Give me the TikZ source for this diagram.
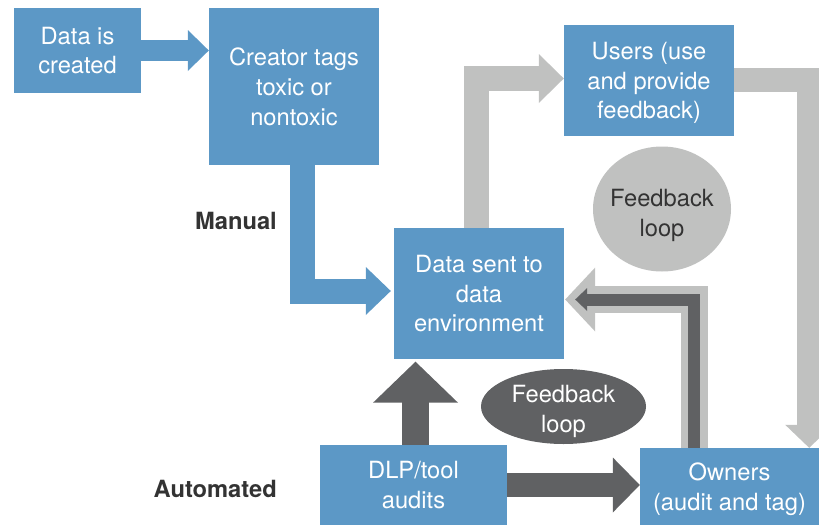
\documentclass[tikz,border=0pt]{standalone}
\usepackage{fontspec}
\setmainfont{TeX Gyre Heros}
\usetikzlibrary{calc,shapes.geometric}
\definecolor{boxblue}{RGB}{92,152,198}
\definecolor{lgray}{RGB}{192,193,192}
\definecolor{dgray}{RGB}{96,97,99}
\definecolor{labeltext}{RGB}{51,51,51}
\begin{document}
\begin{tikzpicture}[x=1pt,y=-1pt,
  box/.style={rectangle, fill=boxblue, text=white, align=center, inner sep=0pt, text depth=0pt,
    font=\fontsize{23.7}{29.7}\selectfont},
  loopshape/.style={ellipse, inner sep=0pt},
  looptext/.style={align=center, inner sep=0pt, text depth=0pt, font=\fontsize{23.7}{29.7}\selectfont},
  sidelabel/.style={anchor=base east, inner sep=0pt, text=labeltext, font=\fontsize{23.7}{28}\selectfont\bfseries},
  shaft/.style={line width=#1, line cap=butt, line join=miter}
]
\useasboundingbox (0,0) rectangle (819,525);

% boxes
\node[box, minimum width=127pt, minimum height=85pt] (created) at (77.5,50.5) {Data is\\created};
\node[box, text depth=-6pt, minimum width=170pt, minimum height=157pt] (creator) at (294,86.5) {Creator tags\\toxic or\\nontoxic};
\node[box, minimum width=170pt, minimum height=111pt] (users) at (649,80.5) {Users (use\\and provide\\feedback)};
\node[box, minimum width=170pt, minimum height=131pt] (sent) at (479,293.5) {Data sent to\\data\\environment};
\node[box, minimum width=187pt, minimum height=80pt] (dlp) at (413.5,485) {DLP/tool\\audits};
\node[box, minimum width=179pt, minimum height=77pt] (owners) at (729.5,486.5) {Owners\\(audit and tag)};

% feedback loops
\node[loopshape, fill=lgray, minimum width=138pt, minimum height=125pt] (fbA) at (662,209) {};
\node[looptext, text=labeltext] (fbAtext) at ($(fbA.center)+(0,4)$) {Feedback\\loop};
\node[loopshape, fill=dgray, minimum width=165pt, minimum height=75pt] (fbB) at (563.5,406.5) {};
\node[looptext, text=white] (fbBtext) at ($(fbB.center)+(0,2.5)$) {Feedback\\loop};

% side labels
\node[sidelabel] (manual) at (277,229) {Manual};
\node[sidelabel] (automated) at (277,497) {Automated};

% arrow 1: created -> creator
\coordinate (t1) at (created.east -| creator.west);
\draw[shaft=21pt, boxblue] (created.east) -- ($(t1)+(-20.5,0)$);
\fill[boxblue] (t1) -- ++(-21,-20.5) -- ++(0,41) -- cycle;

% arrow 2: creator -> sent
\coordinate (s2) at ($(creator.south)+(8.5,0)$);
\coordinate (t2) at ($(sent.west)+(-3,-2.5)$);
\draw[shaft=25pt, boxblue] (s2) -- (s2 |- t2) -- ($(t2)+(-24.5,0)$);
\fill[boxblue] (t2) -- ++(-25,-24) -- ++(0,48) -- cycle;

% arrow 3: sent -> users
\coordinate (s3) at ($(sent.north)+(-2.5,0)$);
\coordinate (t3) at ($(users.west)+(0,-2)$);
\draw[shaft=24.5pt, lgray] (s3) -- (s3 |- t3) -- ($(t3)+(-24.5,0)$);
\fill[lgray] (t3) -- ++(-25,-24.5) -- ++(0,49) -- cycle;

% arrow 4: users -> owners
\coordinate (s4) at ($(users.east)+(0,-1)$);
\coordinate (t4) at ($(owners.north east)+(-10,0)$);
\draw[shaft=24pt, lgray] (s4) -- (s4 -| t4) -- ($(t4)+(0,-22.5)$);
\fill[lgray] (t4) -- ++(-24,-23) -- ++(48,0) -- cycle;

% arrow 5: dlp -> sent
\coordinate (s5) at ($(dlp.north)+(2,0)$);
\coordinate (t5) at ($(s5 |- sent.south)+(0,2.5)$);
\draw[shaft=27pt, dgray] (s5) -- ($(t5)+(0,40.5)$);
\fill[dgray] (t5) -- ++(-42.5,41) -- ++(85,0) -- cycle;

% arrow 6: dlp -> owners
\coordinate (t6) at (dlp.east -| owners.west);
\draw[shaft=24pt, dgray] (dlp.east) -- ($(t6)+(-26.5,0)$);
\fill[dgray] (t6) -- ++(-27,-27.5) -- ++(0,55) -- cycle;

% arrow 7: owners -> sent (double)
\coordinate (s7) at ($(owners.north)+(-35.5,0)$);
\coordinate (t7) at ($(sent.east)+(1,6)$);
\coordinate (t7d) at ($(t7)+(10,0)$);
\draw[shaft=27pt, lgray] (s7) -- (s7 |- t7) -- ($(t7)+(29.5,0)$);
\fill[lgray] (t7) -- ++(30,-32) -- ++(0,64) -- cycle;
\draw[shaft=12pt, dgray] (s7) -- (s7 |- t7) -- ($(t7d)+(11.5,0)$);
\fill[dgray] (t7d) -- ++(12,-11.5) -- ++(0,23) -- cycle;
\end{tikzpicture}
\end{document}
